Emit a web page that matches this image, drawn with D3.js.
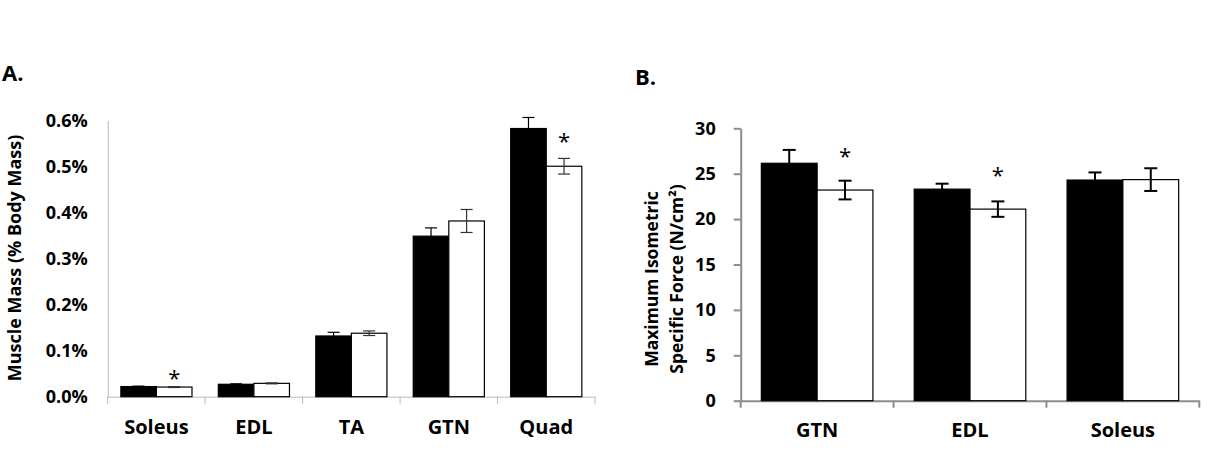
<!DOCTYPE html>
<html>
<head>
<meta charset="utf-8">
<script src="https://cdn.jsdelivr.net/npm/d3@7"></script>
<style>
  body { margin: 0; background: #fff; }
  svg { font-family: "Open Sans", sans-serif; font-weight: bold; }
</style>
</head>
<body>
<div id="chart-area"></div>
<script>
// panel A: muscle mass (% body mass)
const musclesA = ["Soleus", "EDL", "TA", "GTN", "Quad"]
const massCtrl = [0.022, 0.027, 0.132, 0.349, 0.583]
const massCtrlErr = [0.001, 0.001, 0.008, 0.018, 0.024]
const massTrt = [0.021, 0.029, 0.138, 0.382, 0.501]
const massTrtErr = [0.001, 0.001, 0.005, 0.025, 0.017]
const massStars = [0.047, null, null, null, 0.562]   // height of the * mark
const massTicks = [0, 0.1, 0.2, 0.3, 0.4, 0.5, 0.6]

// panel B: maximum isometric specific force (N/cm2)
const musclesB = ["GTN", "EDL", "Soleus"]
const forceCtrl = [26.15, 23.3, 24.3]
const forceCtrlErr = [1.47, 0.6, 0.84]
const forceTrt = [23.2, 21.1, 24.35]
const forceTrtErr = [1.03, 0.85, 1.25]
const forceStars = [27.3, 25.2, null]
const forceTicks = [0, 5, 10, 15, 20, 25, 30]

const svg = d3.select("#chart-area").append("svg")
  .attr("width", 1218)
  .attr("height", 454)

function drawPanel(opt) {
  const x = d3.scaleBand()
    .domain(opt.cats)
    .range([opt.left, opt.right])

  const y = d3.scaleLinear()
    .domain([0, d3.max(opt.ticks)])
    .range([opt.bottom, opt.top])

  const inner = d3.scaleBand()
    .domain([0, 1])
    .range([0, x.bandwidth()])
    .paddingOuter(opt.pad)

  const g = svg.append("g")

  // axes
  const xAxis = g.append("g")
    .attr("transform", `translate(0, ${opt.bottom})`)
    .call(d3.axisBottom(x).tickValues([]).tickSizeOuter(0))
  xAxis.select(".domain").attr("stroke", opt.axisColor).attr("stroke-width", opt.axisWidth)
  // category boundary ticks
  const bounds = opt.cats.map(c => x(c)).concat([opt.right])
  g.selectAll(".bnd").data(bounds).enter().append("line")
    .attr("x1", d => d).attr("x2", d => d)
    .attr("y1", opt.bottom).attr("y2", opt.bottom + 7)
    .attr("stroke", opt.axisColor).attr("stroke-width", opt.axisWidth)

  g.selectAll(".cat").data(opt.cats).enter().append("text")
    .attr("x", d => x(d) + x.bandwidth() / 2)
    .attr("y", opt.catY)
    .attr("text-anchor", "middle")
    .attr("font-size", 20)
    .text(d => d)

  const yAxis = g.append("g")
    .attr("transform", `translate(${opt.left}, 0)`)
    .call(d3.axisLeft(y).tickValues(opt.ticks).tickSize(opt.yTick).tickSizeOuter(0).tickFormat(opt.fmt))
  yAxis.select(".domain").attr("stroke", opt.axisColor).attr("stroke-width", opt.axisWidth)
  yAxis.selectAll(".tick line").attr("stroke", opt.axisColor).attr("stroke-width", opt.axisWidth)
  yAxis.selectAll(".tick text")
    .attr("x", -opt.labelGap)
    .attr("font-size", 18)
    .attr("font-family", "Open Sans")
    .attr("font-weight", "bold")
    .attr("fill", "#000")

  // bars
  const series = [
    { vals: opt.ctrl, errs: opt.ctrlErr, fill: "#000", i: 0 },
    { vals: opt.trt, errs: opt.trtErr, fill: "#fff", i: 1 }
  ]
  series.forEach(s => {
    g.selectAll(".bar" + s.i).data(opt.cats).enter().append("rect")
      .attr("x", (d) => x(d) + inner(s.i))
      .attr("y", (d, j) => y(s.vals[j]))
      .attr("width", inner.bandwidth())
      .attr("height", (d, j) => opt.bottom - y(s.vals[j]))
      .attr("fill", s.fill)
      .attr("stroke", "#000")
      .attr("stroke-width", 1.2)
  })

  // error bars
  series.forEach(s => {
    opt.cats.forEach((c, j) => {
      const cx = x(c) + inner(s.i) + inner.bandwidth() / 2
      const hi = y(s.vals[j] + s.errs[j])
      const lo = y(s.vals[j] - s.errs[j])
      const col = s.i === 0 ? "#000" : opt.errColor
      g.append("line").attr("x1", cx).attr("x2", cx).attr("y1", hi).attr("y2", lo)
        .attr("stroke", col).attr("stroke-width", opt.errWidth)
      ;[hi, lo].forEach(yy => {
        g.append("line").attr("x1", cx - opt.cap).attr("x2", cx + opt.cap).attr("y1", yy).attr("y2", yy)
          .attr("stroke", col).attr("stroke-width", opt.errWidth)
      })
    })
  })

  // significance stars (value = vertical centre of the mark)
  opt.cats.forEach((c, j) => {
    if (opt.stars[j] == null) return
    g.append("text")
      .attr("x", x(c) + inner(1) + inner.bandwidth() / 2)
      .attr("y", y(opt.stars[j]) + 11)
      .attr("text-anchor", "middle")
      .attr("font-size", 22)
      .attr("font-weight", "normal")
      .attr("fill", "#000")
      .text("*")
  })

  return { x, y }
}

drawPanel({
  cats: musclesA, ctrl: massCtrl, ctrlErr: massCtrlErr, trt: massTrt, trtErr: massTrtErr,
  stars: massStars, ticks: massTicks,
  left: 107.7, right: 595, top: 120.7, bottom: 396.7, pad: 0.37,
  fmt: d => d.toFixed(1) + "%", yTick: 0, labelGap: 20,
  axisColor: "#b8b8b8", axisWidth: 1, errColor: "#333", errWidth: 1.2, cap: 6,
  catY: 434
})

drawPanel({
  cats: musclesB, ctrl: forceCtrl, ctrlErr: forceCtrlErr, trt: forceTrt, trtErr: forceTrtErr,
  stars: forceStars, ticks: forceTicks,
  left: 740.7, right: 1199.3, top: 128.3, bottom: 400.7, pad: 0.37,
  fmt: d => d, yTick: 7, labelGap: 25,
  axisColor: "#8c8c8c", axisWidth: 2, errColor: "#000", errWidth: 2, cap: 6.5,
  catY: 437
})

// panel letters
svg.append("text").attr("x", 2).attr("y", 81).attr("font-size", 22).text("A.")
svg.append("text").attr("x", 635).attr("y", 85).attr("font-size", 22).text("B.")

// y-axis titles
svg.append("text")
  .attr("transform", "translate(21, 258) rotate(-90)")
  .attr("text-anchor", "middle")
  .attr("font-size", 18)
  .text("Muscle Mass (% Body Mass)")

const tB = svg.append("text")
  .attr("transform", "translate(658, 279) rotate(-90)")
  .attr("text-anchor", "middle")
  .attr("font-size", 17.5)
tB.append("tspan").attr("x", 0).attr("dy", 0).text("Maximum Isometric")
tB.append("tspan").attr("x", 0).attr("dy", 25).text("Specific Force (N/cm²)")
</script>
</body>
</html>
